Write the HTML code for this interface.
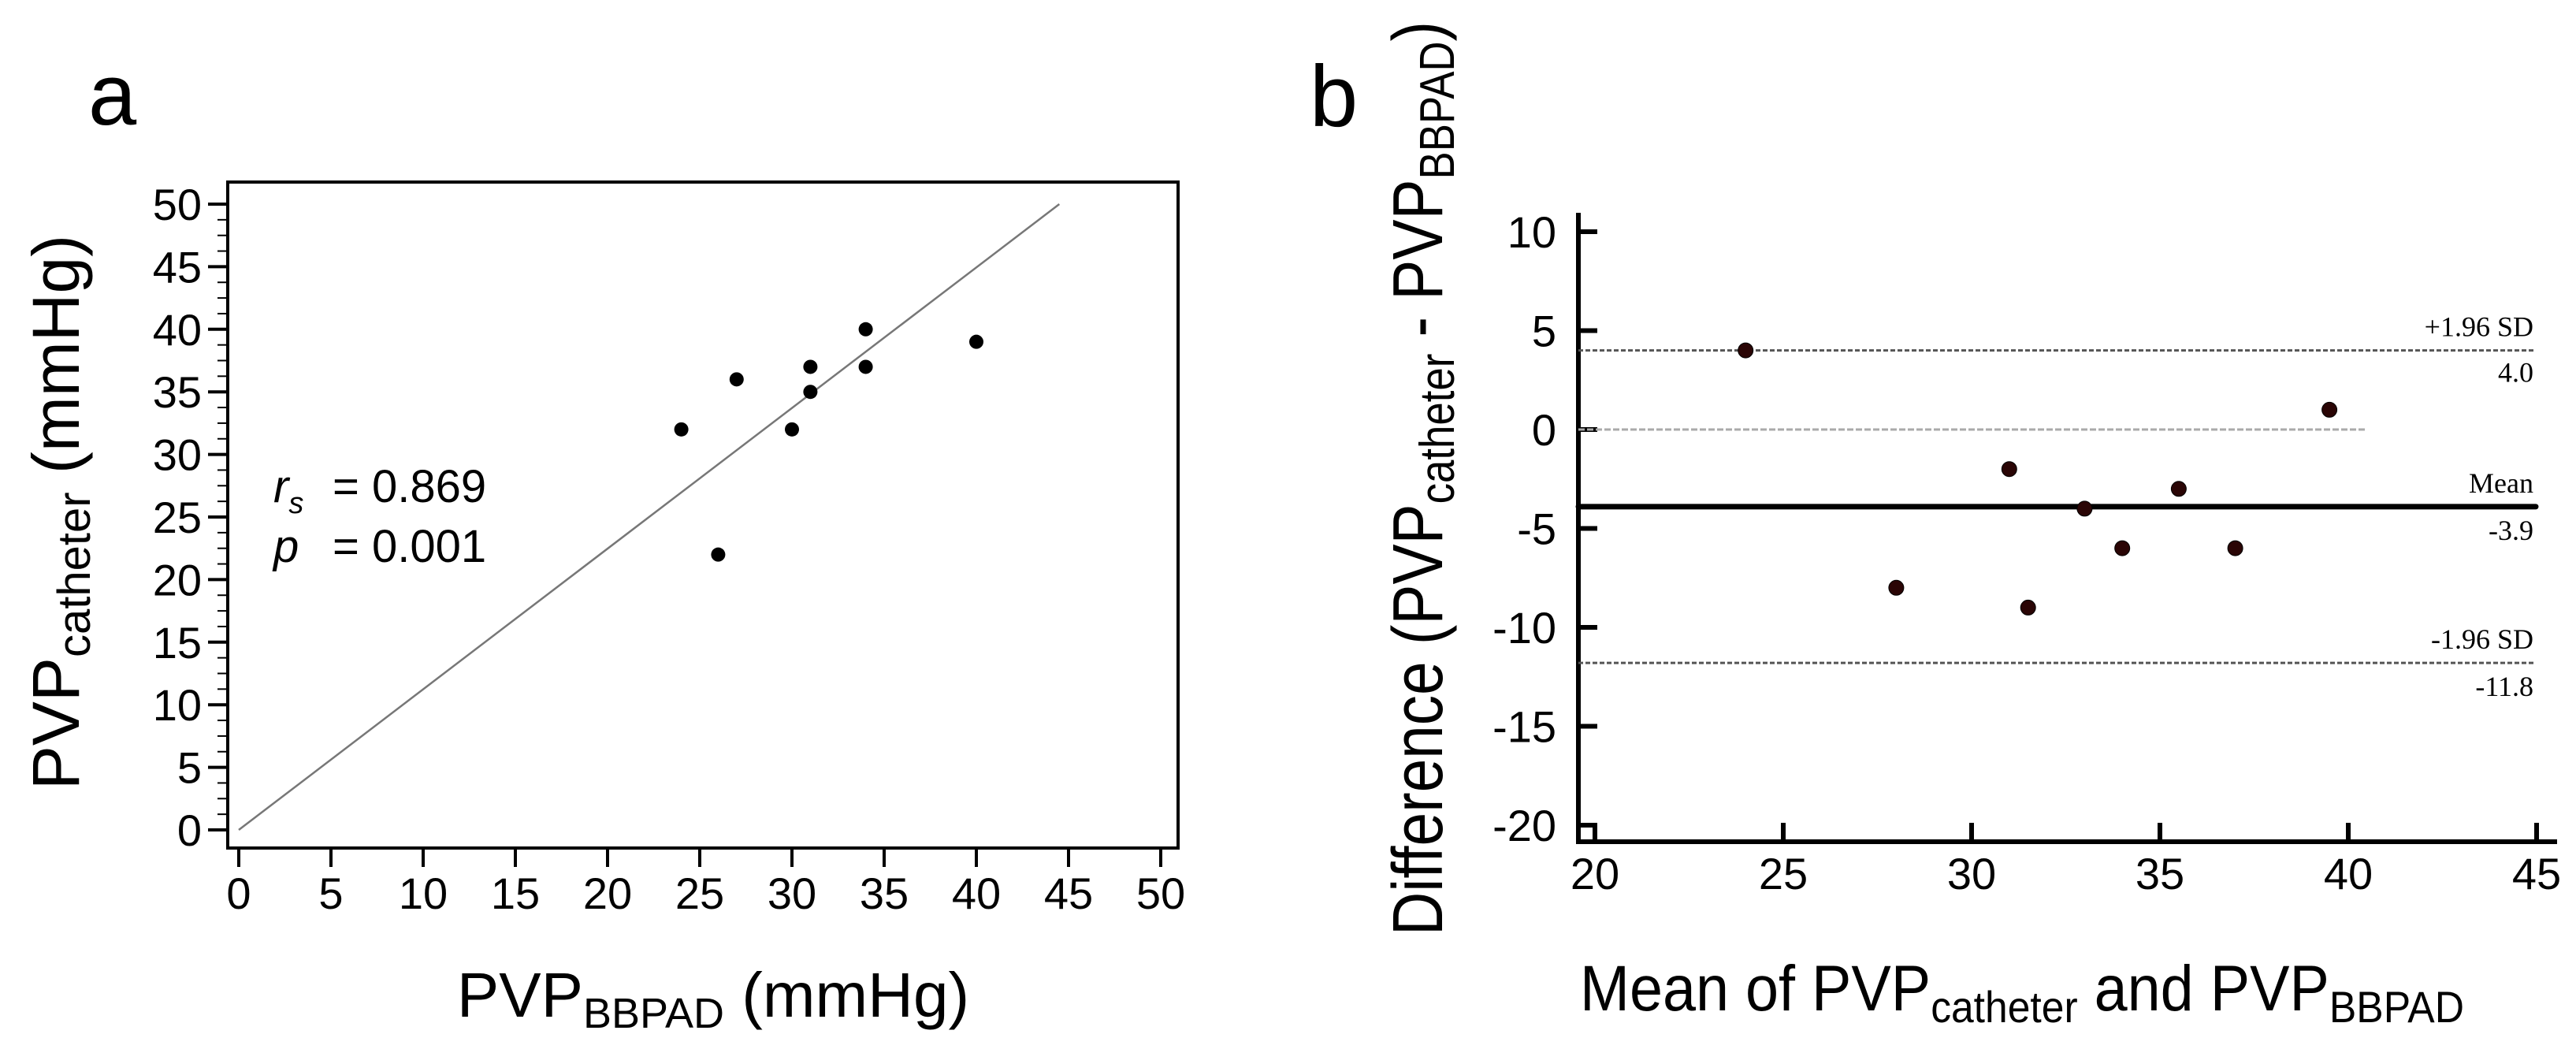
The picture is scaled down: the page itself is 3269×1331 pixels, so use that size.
<!DOCTYPE html>
<html><head><meta charset="utf-8"><style>
html,body{margin:0;padding:0;background:#fff}
svg{display:block}
text{font-family:"Liberation Sans",sans-serif;fill:#000}
.serif{font-family:"Liberation Serif",serif}
</style></head><body>
<svg id="fig" width="3269" height="1331" viewBox="0 0 3269 1331" xmlns="http://www.w3.org/2000/svg">
<g id="pa"></g>
<g id="pb"></g>
</svg>
<script>
// Panel a data
const aXTicks = [0,5,10,15,20,25,30,35,40,45,50];
const aYTicks = [0,5,10,15,20,25,30,35,40,45,50];
const aBBPAD = [24,27,26,30,31,31,34,34,40];
const aCatheter = [32,36,22,32,35,37,40,37,39];
const aLineX = [0,44.5];
const aLineY = [0,50];
// Panel b data
const bXTicks = [20,25,30,35,40,45];
const bYTicks = [10,5,0,-5,-10,-15,-20];
const bMeanVals = [24,28,31,31.5,33,34,35.5,37,39.5];
const bDiffVals = [4,-8,-2,-9,-4,-6,-3,-6,1];
const bUpper = 4.0, bMean = -3.9, bLower = -11.8;

const NS='http://www.w3.org/2000/svg';
function mk(parent,tag,attrs,txt){const e=document.createElementNS(NS,tag);for(const k in attrs)e.setAttribute(k,attrs[k]);if(txt!==undefined)e.textContent=txt;parent.appendChild(e);return e;}

// ---------- Panel a ----------
const pa=document.getElementById('pa');
const ax=v=>303+v*23.4;
const ay=v=>1053-v*15.88;
let t=mk(pa,'text',{x:112,y:158,'font-size':110},'a');


let r=mk(pa,'rect',{x:289,y:231,width:1206,height:845,fill:'none',stroke:'#000','stroke-width':4});


for(let v=0;v<=50;v+=1.25){
  const major=(v%5===0);
  const l=mk(pa,'line',{x1:289,x2:major?264:276,y1:ay(v),y2:ay(v),stroke:'#000','stroke-width':major?4:2});
  
  
}
aYTicks.forEach(v=>{
  const e=mk(pa,'text',{x:256,y:ay(v)+20,'font-size':56,'text-anchor':'end'},String(v));
  
  
});
aXTicks.forEach(v=>{
  const l=mk(pa,'line',{x1:ax(v),x2:ax(v),y1:1076,y2:1100,stroke:'#000','stroke-width':4});
  
  
  const e=mk(pa,'text',{x:ax(v),y:1153,'font-size':56,'text-anchor':'middle'},String(v));
  
  
});
let ln=mk(pa,'line',{x1:ax(aLineX[0]),y1:ay(aLineY[0]),x2:ax(aLineX[1]),y2:ay(aLineY[1]),stroke:'#777','stroke-width':2.5});


aBBPAD.forEach((v,i)=>{
  const c=mk(pa,'circle',{cx:ax(v),cy:ay(aCatheter[i]),r:9,fill:'#000'});
  
  
});
t=mk(pa,'text',{x:347,y:637,'font-size':58});
t.innerHTML='<tspan font-style="italic">r</tspan><tspan font-style="italic" font-size="38" dy="14">s</tspan>';


t=mk(pa,'text',{x:422,y:637,'font-size':58},'= 0.869');


t=mk(pa,'text',{x:347,y:713,'font-size':58,'font-style':'italic'},'p');


t=mk(pa,'text',{x:422,y:713,'font-size':58},'= 0.001');


t=mk(pa,'text',{x:0,y:0,'font-size':84,'text-anchor':'middle',transform:'translate(100,650) rotate(-90)'});
t.innerHTML='PVP<tspan font-size="58" dy="14">catheter</tspan><tspan dy="-14">  (mmHg)</tspan>';


t=mk(pa,'text',{x:905,y:1290,'font-size':80,'text-anchor':'middle'});
t.innerHTML='PVP<tspan font-size="54" dy="14">BBPAD</tspan><tspan dy="-14"> (mmHg)</tspan>';



// ---------- Panel b ----------
const pb=document.getElementById('pb');
const bx=v=>2024+(v-20)*47.8;
const by=v=>545-v*25.1;
t=mk(pb,'text',{x:1662,y:160,'font-size':110},'b');


let axl=mk(pb,'path',{d:'M2003 270 V1068 H3245',fill:'none',stroke:'#000','stroke-width':6});


bYTicks.forEach(v=>{
  const l=mk(pb,'line',{x1:2003,x2:2027,y1:by(v),y2:by(v),stroke:'#000','stroke-width':6});
  
  
  const e=mk(pb,'text',{x:1975,y:by(v)+20,'font-size':56,'text-anchor':'end'},String(v));
  
  
});
bXTicks.forEach(v=>{
  const l=mk(pb,'line',{x1:bx(v),x2:bx(v),y1:1068,y2:1044,stroke:'#000','stroke-width':6});
  
  
  const e=mk(pb,'text',{x:bx(v),y:1128,'font-size':56,'text-anchor':'middle'},String(v));
  
  
});
let zl=mk(pb,'line',{x1:2003,x2:bx(40.5),y1:by(0),y2:by(0),stroke:'#aaa','stroke-width':3,'stroke-dasharray':'8 3'});


let ul=mk(pb,'line',{x1:2003,x2:3218,y1:by(bUpper),y2:by(bUpper),stroke:'#555','stroke-width':3,'stroke-dasharray':'6 3'});


let ll=mk(pb,'line',{x1:2003,x2:3218,y1:by(bLower),y2:by(bLower),stroke:'#555','stroke-width':3,'stroke-dasharray':'6 3'});


let ml=mk(pb,'line',{x1:2003,x2:3218,y1:by(bMean),y2:by(bMean),stroke:'#000','stroke-width':7,'stroke-linecap':'round'});


const lbls=[['+1.96 SD',by(bUpper)-18,'upper-limit-label'],[bUpper.toFixed(1),by(bUpper)+40,'upper-limit-value'],['Mean',by(bMean)-18,'mean-label'],[bMean.toFixed(1),by(bMean)+42,'mean-value'],['-1.96 SD',by(bLower)-18,'lower-limit-label'],[bLower.toFixed(1),by(bLower)+42,'lower-limit-value']];
lbls.forEach(([s,y,n])=>{
  const e=mk(pb,'text',{x:3215,y:y,'font-size':36,'text-anchor':'end',class:'serif'},s);
  
  
});
bMeanVals.forEach((v,i)=>{
  const c=mk(pb,'circle',{cx:bx(v),cy:by(bDiffVals[i]),r:9.5,fill:'#2a0505',stroke:'#000','stroke-width':1});
  
  
});
t=mk(pb,'text',{x:0,y:0,'font-size':90,'text-anchor':'middle',transform:'translate(1830,607) rotate(-90)',textLength:1160,lengthAdjust:'spacingAndGlyphs'});
t.innerHTML='Difference (PVP<tspan font-size="62" dy="15">catheter</tspan><tspan dy="-15"> - PVP</tspan><tspan font-size="62" dy="15">BBPAD</tspan><tspan dy="-15">)</tspan>';


t=mk(pb,'text',{x:2005,y:1282,'font-size':82,textLength:1122,lengthAdjust:'spacingAndGlyphs'});
t.innerHTML='Mean of PVP<tspan font-size="56" dy="15">catheter</tspan><tspan dy="-15"> and PVP</tspan><tspan font-size="56" dy="15">BBPAD</tspan>';


</script>
</body></html>
